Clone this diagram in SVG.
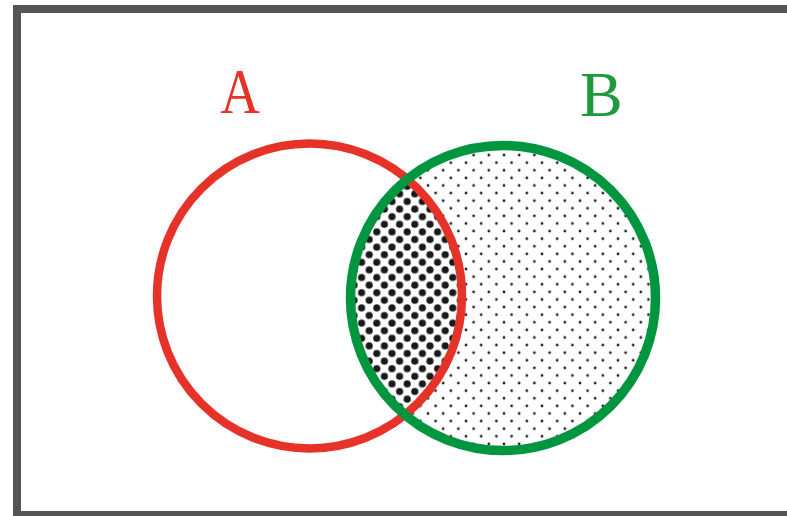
<svg xmlns="http://www.w3.org/2000/svg" width="787" height="516" viewBox="0 0 787 516">
<style>
.frame{fill:#ffffff;stroke:#555555;stroke-width:8}
.lbl{font-family:"Liberation Serif","Times New Roman",serif;font-size:64px}
.ring{fill:none}
</style>
<defs>
<pattern id="light" patternUnits="userSpaceOnUse" x="2.4" y="3.1" width="15.2" height="15.2">
<circle cx="0" cy="0" r="1.35" fill="#1a1a1a"/>
<circle cx="15.2" cy="0" r="1.35" fill="#1a1a1a"/>
<circle cx="0" cy="15.2" r="1.35" fill="#1a1a1a"/>
<circle cx="15.2" cy="15.2" r="1.35" fill="#1a1a1a"/>
<circle cx="7.6" cy="7.6" r="1.35" fill="#1a1a1a"/>
</pattern>
<pattern id="dark" patternUnits="userSpaceOnUse" x="12.0" y="3.9" width="15.2" height="15.2">
<circle cx="0" cy="0" r="3.6" fill="#1a1a1a"/>
<circle cx="15.2" cy="0" r="3.6" fill="#1a1a1a"/>
<circle cx="0" cy="15.2" r="3.6" fill="#1a1a1a"/>
<circle cx="15.2" cy="15.2" r="3.6" fill="#1a1a1a"/>
<circle cx="7.6" cy="7.6" r="3.6" fill="#1a1a1a"/>
</pattern>
<clipPath id="clipA"><circle cx="309.5" cy="296" r="152.5"/></clipPath>
</defs>
<rect class="frame" x="17" y="9" width="790" height="506"/>
<g id="fillB"><circle cx="503" cy="298" r="152.5" fill="url(#light)"/></g>
<g id="fillAB" clip-path="url(#clipA)"><circle cx="503" cy="298" r="152.5" fill="#ffffff"/><circle cx="503" cy="298" r="152.5" fill="url(#dark)"/></g>
<g id="setA">
<circle class="ring" cx="309.5" cy="296" r="152.5" stroke="#E5332A" stroke-width="8.5"/>
<text class="lbl" fill="#E5332A" text-anchor="middle" transform="translate(240 113) scale(0.86 1)">A</text>
</g>
<g id="setB">
<circle class="ring" cx="503" cy="298" r="152.5" stroke="#009640" stroke-width="9.5"/>
<text class="lbl" fill="#1E9A3C" x="601.3" y="116" text-anchor="middle">B</text>
</g>
</svg>
